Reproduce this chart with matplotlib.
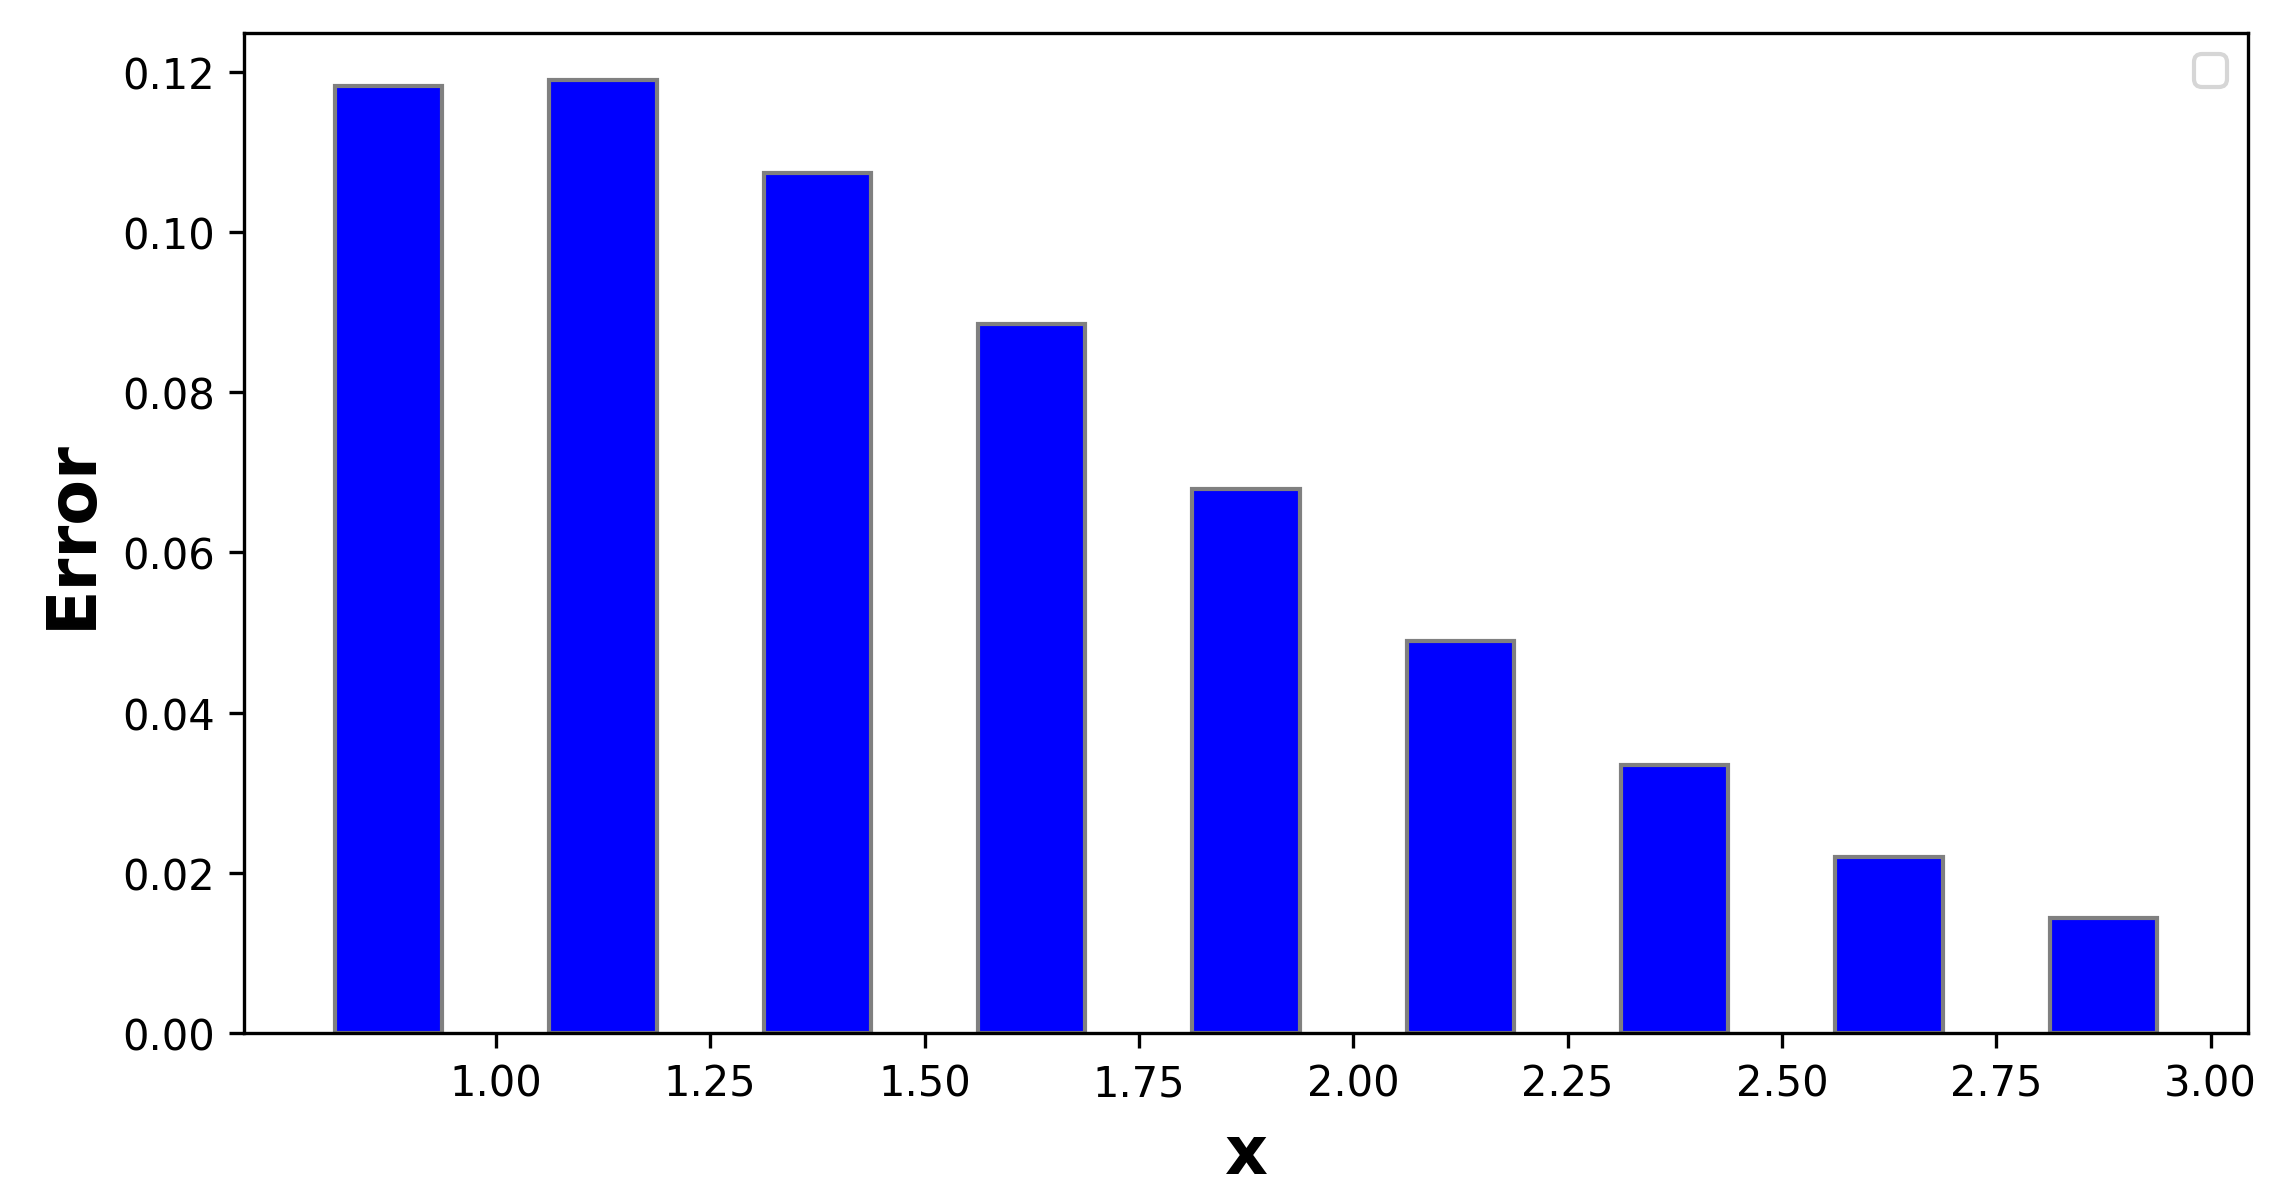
import numpy as np
from matplotlib import pyplot as plt

# bar centres and error values
x_pos = [0.875, 1.125, 1.375, 1.625, 1.875, 2.125, 2.375, 2.625, 2.875]
errors = [0.1182, 0.1189, 0.1073, 0.0885, 0.0679, 0.0490, 0.0335, 0.0220, 0.0144]
x_ticks = [1.00, 1.25, 1.50, 1.75, 2.00, 2.25, 2.50, 2.75, 3.00]
bar_width = 0.125


def plot_error(x, err):
    fig, ax = plt.subplots(figsize=(7.6, 4.013), dpi=300)
    ax.bar(x, err, bar_width, color="blue", edgecolor="grey")
    ax.set_xticks(x_ticks)
    ax.set_xticklabels([f"{t:.2f}" for t in x_ticks])
    ax.set_xlabel("x", fontsize=16, fontweight="bold")
    ax.set_ylabel("Error", fontsize=16, fontweight="bold")
    ax.legend()
    plt.subplots_adjust(left=0.107, right=0.986, bottom=0.141, top=0.972)
    plt.savefig("out.png")


plot_error(x_pos, errors)
